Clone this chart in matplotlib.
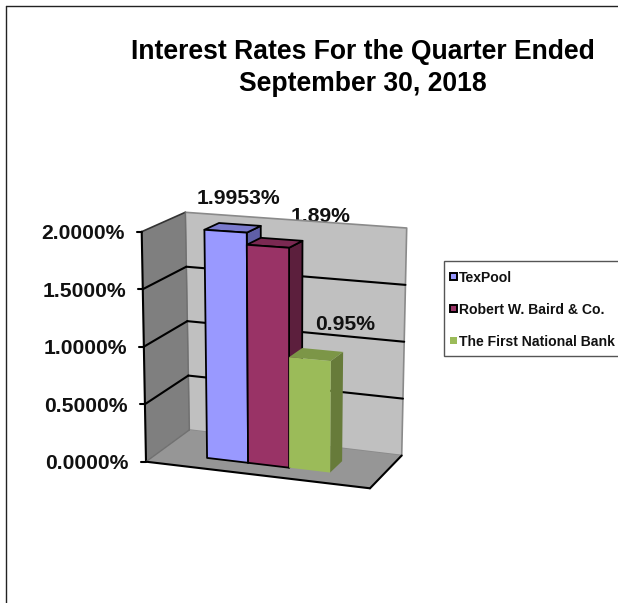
import matplotlib
matplotlib.use('Agg')
import matplotlib.pyplot as plt
from matplotlib.patches import Polygon, Rectangle

plt.rcParams['font.family'] = ['Liberation Sans', 'DejaVu Sans']

TITLE = 'Interest Rates For the Quarter Ended\nSeptember 30, 2018'
NAMES = ['TexPool', 'Robert W. Baird & Co.', 'The First National Bank']
RATES = [1.9953, 1.89, 0.95]
RATE_LABELS = ['1.9953%', '1.89%', '0.95%']
TICKS = [0, 0.5, 1.0, 1.5, 2.0]
TICK_LABELS = ['0.0000%', '0.5000%', '1.0000%', '1.5000%', '2.0000%']

FRONT = ['#9999FF', '#993366', '#9BBB59']
TOP = ['#7A7ACC', '#7A2952', '#7C9647']
SIDE = ['#5F5FA6', '#5C1F3D', '#677B3A']

# box corners in pixels: front/back, bottom/top, left/right
FBL, FBR = (146, 461.7), (370, 488.3)
FTL, FTR = (141.7, 231.7), (372, 247)
BBL, BBR = (189.3, 430), (401.7, 455.5)
BTL, BTR = (185.3, 212.3), (406.7, 228)

BAR_W = 0.186
BAR_X0 = 0.218
Z0, Z1 = 0.30, 0.65
YMAX = 2.0


def lerp(a, b, t):
    return (a[0] + (b[0] - a[0]) * t, a[1] + (b[1] - a[1]) * t)


def proj(x, v, z):
    # x 0-1 across, v in percent, z 0-1 into the chart
    t = v / YMAX
    front = lerp(lerp(FBL, FBR, x), lerp(FTL, FTR, x), t)
    back = lerp(lerp(BBL, BBR, x), lerp(BTL, BTR, x), t)
    return lerp(front, back, z)


def poly(ax, pts, color, edge='none', lw=0, zorder=2):
    ax.add_patch(Polygon(pts, closed=True, facecolor=color, edgecolor=edge,
                         linewidth=lw, joinstyle='round', zorder=zorder))


def line(ax, a, b, color='black', lw=1.5, zorder=3):
    ax.plot([a[0], b[0]], [a[1], b[1]], color=color, lw=lw, zorder=zorder,
            solid_capstyle='round')


fig = plt.figure(figsize=(6.18, 6.03), dpi=100)
ax = fig.add_axes([0, 0, 1, 1])
ax.set_xlim(0, 618)
ax.set_ylim(603, 0)
ax.axis('off')

# outer chart border
line(ax, (5.5, 603), (5.5, 6), '#222222', 1.0)
line(ax, (5.5, 6), (618, 6), '#222222', 1.0)

ax.text(363, 68, TITLE, ha='center', va='center', fontsize=19.1,
        fontweight='bold', color='black', linespacing=1.32)

# a label that sits behind the back wall
ax.text(321, 217, RATE_LABELS[1], ha='center', va='center', fontsize=15.2,
        fontweight='bold', color='#111111', zorder=1)

# walls and floor
poly(ax, [proj(0, 0, 1), proj(1, 0, 1), proj(1, YMAX, 1), proj(0, YMAX, 1)],
     '#C0C0C0', '#8A8A8A', 1.2, 2)
poly(ax, [proj(0, 0, 0), proj(0, 0, 1), proj(0, YMAX, 1), proj(0, YMAX, 0)],
     '#7F7F7F', zorder=2)
poly(ax, [proj(0, 0, 0), proj(1, 0, 0), proj(1, 0, 1), proj(0, 0, 1)],
     '#969696', zorder=2)

line(ax, proj(0, 0, 0), proj(0, YMAX, 0))
line(ax, proj(0, YMAX, 0), proj(0, YMAX, 1), '#333333', 1.2)
line(ax, proj(0, YMAX, 1), proj(0, 0, 1), '#707070', 1.0)
line(ax, proj(0, 0, 0), proj(0, 0, 1), '#707070', 1.0)
line(ax, proj(0, 0, 0), proj(1, 0, 0))
line(ax, proj(1, 0, 0), proj(1, 0, 1))

for v, lab in zip(TICKS, TICK_LABELS):
    a = proj(0, v, 0)
    line(ax, (a[0] - 5, a[1]), a)
    ax.text(a[0] - 17, a[1] + 2, lab, ha='right', va='center', fontsize=15.2,
            fontweight='bold', color='#111111')
    if v > 0 and v < YMAX:
        line(ax, a, proj(0, v, 1))
        line(ax, proj(0, v, 1), proj(1, v, 1))

# bars left to right, so each one covers the side of the last
for i, rate in enumerate(RATES):
    x0 = BAR_X0 + i * BAR_W
    x1 = x0 + BAR_W
    edge = 'black' if i < 2 else 'none'
    lw = 1.3 if i < 2 else 0
    z = 4 + i
    poly(ax, [proj(x1, 0, Z0), proj(x1, 0, Z1), proj(x1, rate, Z1), proj(x1, rate, Z0)],
         SIDE[i], edge, lw, z)
    poly(ax, [proj(x0, rate, Z0), proj(x1, rate, Z0), proj(x1, rate, Z1), proj(x0, rate, Z1)],
         TOP[i], edge, lw, z)
    poly(ax, [proj(x0, 0, Z0), proj(x1, 0, Z0), proj(x1, rate, Z0), proj(x0, rate, Z0)],
         FRONT[i], edge, lw, z)

ax.text(238, 199, RATE_LABELS[0], ha='center', va='center', fontsize=15.2,
        fontweight='bold', color='#111111', zorder=8)
ax.text(345, 324.5, RATE_LABELS[2], ha='center', va='center', fontsize=15.2,
        fontweight='bold', color='#111111', zorder=8)

# legend, runs off the right edge
ax.add_patch(Rectangle((443.5, 260.5), 190, 95.5, facecolor='white',
                       edgecolor='#555555', linewidth=1.0, zorder=2))
for i, name in enumerate(NAMES):
    y = 276.5 + i * 32
    ax.add_patch(Rectangle((449.5, y - 3.5), 7, 7, facecolor=FRONT[i],
                           edgecolor='black' if i < 2 else 'none',
                           linewidth=1.4 if i < 2 else 0, zorder=3))
    ax.text(459, y + 1, name, ha='left', va='center', fontsize=10.05,
            fontweight='bold', color='#111111', zorder=3)

fig.savefig('out.png', dpi=100, facecolor='white')
